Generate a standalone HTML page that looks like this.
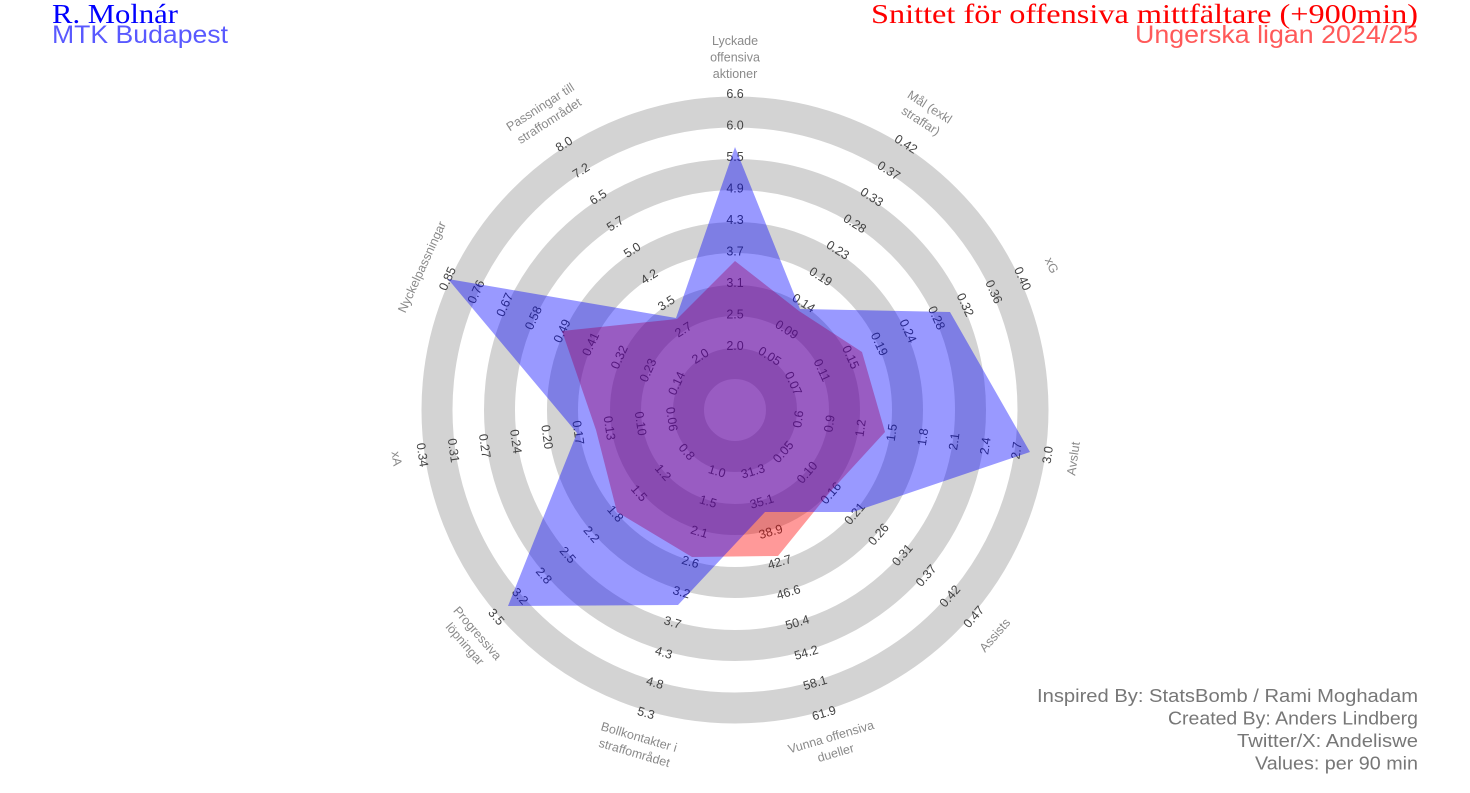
<!DOCTYPE html>
<html><head><meta charset="utf-8"><style>
html,body{margin:0;padding:0;background:#fff;width:1470px;height:793px;overflow:hidden}
svg{display:block}
.t{font-family:"Liberation Sans",sans-serif;font-size:12.5px;fill:#444;text-anchor:middle;dominant-baseline:central}
.p{font-family:"Liberation Sans",sans-serif;font-size:12.5px;fill:#8a8a8a;text-anchor:middle}
</style></head><body>
<svg width="1470" height="793" viewBox="0 0 1470 793" xmlns="http://www.w3.org/2000/svg">
<g fill="none" stroke="#d3d3d3" stroke-width="31">
<circle cx="735" cy="410" r="46.5"/><circle cx="735" cy="410" r="109.5"/><circle cx="735" cy="410" r="172.5"/><circle cx="735" cy="410" r="235.5"/><circle cx="735" cy="410" r="298"/>
</g>

<g transform="translate(735,410)">
<g transform="rotate(0)">
<text class="t" x="0" y="-64">2.0</text><text class="t" x="0" y="-95.5">2.5</text><text class="t" x="0" y="-127">3.1</text><text class="t" x="0" y="-158.5">3.7</text><text class="t" x="0" y="-190">4.3</text><text class="t" x="0" y="-221.5">4.9</text><text class="t" x="0" y="-253">5.5</text><text class="t" x="0" y="-284.5">6.0</text><text class="t" x="0" y="-316">6.6</text>
<text class="p" y="-365"><tspan x="0" dy="0">Lyckade</tspan><tspan x="0" dy="16.5">offensiva</tspan><tspan x="0" dy="16.5">aktioner</tspan></text>
</g>
<g transform="rotate(32.73)">
<text class="t" x="0" y="-64">0.05</text><text class="t" x="0" y="-95.5">0.09</text><text class="t" x="0" y="-127">0.14</text><text class="t" x="0" y="-158.5">0.19</text><text class="t" x="0" y="-190">0.23</text><text class="t" x="0" y="-221.5">0.28</text><text class="t" x="0" y="-253">0.33</text><text class="t" x="0" y="-284.5">0.37</text><text class="t" x="0" y="-316">0.42</text>
<text class="p" y="-356"><tspan x="0" dy="0">Mål (exkl</tspan><tspan x="0" dy="16.5">straffar)</tspan></text>
</g>
<g transform="rotate(65.45)">
<text class="t" x="0" y="-64">0.07</text><text class="t" x="0" y="-95.5">0.11</text><text class="t" x="0" y="-127">0.15</text><text class="t" x="0" y="-158.5">0.19</text><text class="t" x="0" y="-190">0.24</text><text class="t" x="0" y="-221.5">0.28</text><text class="t" x="0" y="-253">0.32</text><text class="t" x="0" y="-284.5">0.36</text><text class="t" x="0" y="-316">0.40</text>
<text class="p" y="-344"><tspan x="0" dy="0">xG</tspan></text>
</g>
<g transform="rotate(98.18)">
<text class="t" transform="translate(0,-64) rotate(180)">0.6</text><text class="t" transform="translate(0,-95.5) rotate(180)">0.9</text><text class="t" transform="translate(0,-127) rotate(180)">1.2</text><text class="t" transform="translate(0,-158.5) rotate(180)">1.5</text><text class="t" transform="translate(0,-190) rotate(180)">1.8</text><text class="t" transform="translate(0,-221.5) rotate(180)">2.1</text><text class="t" transform="translate(0,-253) rotate(180)">2.4</text><text class="t" transform="translate(0,-284.5) rotate(180)">2.7</text><text class="t" transform="translate(0,-316) rotate(180)">3.0</text>
<text class="p" transform="translate(0,-342) rotate(180)" dominant-baseline="central">Avslut</text>
</g>
<g transform="rotate(130.91)">
<text class="t" transform="translate(0,-64) rotate(180)">0.05</text><text class="t" transform="translate(0,-95.5) rotate(180)">0.10</text><text class="t" transform="translate(0,-127) rotate(180)">0.16</text><text class="t" transform="translate(0,-158.5) rotate(180)">0.21</text><text class="t" transform="translate(0,-190) rotate(180)">0.26</text><text class="t" transform="translate(0,-221.5) rotate(180)">0.31</text><text class="t" transform="translate(0,-253) rotate(180)">0.37</text><text class="t" transform="translate(0,-284.5) rotate(180)">0.42</text><text class="t" transform="translate(0,-316) rotate(180)">0.47</text>
<text class="p" transform="translate(0,-344) rotate(180)" dominant-baseline="central">Assists</text>
</g>
<g transform="rotate(163.64)">
<text class="t" transform="translate(0,-64) rotate(180)">31.3</text><text class="t" transform="translate(0,-95.5) rotate(180)">35.1</text><text class="t" transform="translate(0,-127) rotate(180)">38.9</text><text class="t" transform="translate(0,-158.5) rotate(180)">42.7</text><text class="t" transform="translate(0,-190) rotate(180)">46.6</text><text class="t" transform="translate(0,-221.5) rotate(180)">50.4</text><text class="t" transform="translate(0,-253) rotate(180)">54.2</text><text class="t" transform="translate(0,-284.5) rotate(180)">58.1</text><text class="t" transform="translate(0,-316) rotate(180)">61.9</text>
<g transform="translate(0,-348) rotate(180)"><text class="p" y="-3"><tspan x="0" dy="0">Vunna offensiva</tspan><tspan x="0" dy="16.5">dueller</tspan></text></g>
</g>
<g transform="rotate(196.36)">
<text class="t" transform="translate(0,-64) rotate(180)">1.0</text><text class="t" transform="translate(0,-95.5) rotate(180)">1.5</text><text class="t" transform="translate(0,-127) rotate(180)">2.1</text><text class="t" transform="translate(0,-158.5) rotate(180)">2.6</text><text class="t" transform="translate(0,-190) rotate(180)">3.2</text><text class="t" transform="translate(0,-221.5) rotate(180)">3.7</text><text class="t" transform="translate(0,-253) rotate(180)">4.3</text><text class="t" transform="translate(0,-284.5) rotate(180)">4.8</text><text class="t" transform="translate(0,-316) rotate(180)">5.3</text>
<g transform="translate(0,-348) rotate(180)"><text class="p" y="-3"><tspan x="0" dy="0">Bollkontakter i</tspan><tspan x="0" dy="16.5">straffområdet</tspan></text></g>
</g>
<g transform="rotate(229.09)">
<text class="t" transform="translate(0,-64) rotate(180)">0.8</text><text class="t" transform="translate(0,-95.5) rotate(180)">1.2</text><text class="t" transform="translate(0,-127) rotate(180)">1.5</text><text class="t" transform="translate(0,-158.5) rotate(180)">1.8</text><text class="t" transform="translate(0,-190) rotate(180)">2.2</text><text class="t" transform="translate(0,-221.5) rotate(180)">2.5</text><text class="t" transform="translate(0,-253) rotate(180)">2.8</text><text class="t" transform="translate(0,-284.5) rotate(180)">3.2</text><text class="t" transform="translate(0,-316) rotate(180)">3.5</text>
<g transform="translate(0,-348) rotate(180)"><text class="p" y="-3"><tspan x="0" dy="0">Progressiva</tspan><tspan x="0" dy="16.5">löpningar</tspan></text></g>
</g>
<g transform="rotate(261.82)">
<text class="t" transform="translate(0,-64) rotate(180)">0.06</text><text class="t" transform="translate(0,-95.5) rotate(180)">0.10</text><text class="t" transform="translate(0,-127) rotate(180)">0.13</text><text class="t" transform="translate(0,-158.5) rotate(180)">0.17</text><text class="t" transform="translate(0,-190) rotate(180)">0.20</text><text class="t" transform="translate(0,-221.5) rotate(180)">0.24</text><text class="t" transform="translate(0,-253) rotate(180)">0.27</text><text class="t" transform="translate(0,-284.5) rotate(180)">0.31</text><text class="t" transform="translate(0,-316) rotate(180)">0.34</text>
<text class="p" transform="translate(0,-342) rotate(180)" dominant-baseline="central">xA</text>
</g>
<g transform="rotate(294.55)">
<text class="t" x="0" y="-64">0.14</text><text class="t" x="0" y="-95.5">0.23</text><text class="t" x="0" y="-127">0.32</text><text class="t" x="0" y="-158.5">0.41</text><text class="t" x="0" y="-190">0.49</text><text class="t" x="0" y="-221.5">0.58</text><text class="t" x="0" y="-253">0.67</text><text class="t" x="0" y="-284.5">0.76</text><text class="t" x="0" y="-316">0.85</text>
<text class="p" x="0" y="-344" dominant-baseline="central">Nyckelpassningar</text>
</g>
<g transform="rotate(327.27)">
<text class="t" x="0" y="-64">2.0</text><text class="t" x="0" y="-95.5">2.7</text><text class="t" x="0" y="-127">3.5</text><text class="t" x="0" y="-158.5">4.2</text><text class="t" x="0" y="-190">5.0</text><text class="t" x="0" y="-221.5">5.7</text><text class="t" x="0" y="-253">6.5</text><text class="t" x="0" y="-284.5">7.2</text><text class="t" x="0" y="-316">8.0</text>
<text class="p" y="-356"><tspan x="0" dy="0">Passningar till</tspan><tspan x="0" dy="16.5">straffområdet</tspan></text>
</g>
</g>

<polygon fill="#ff0000" fill-opacity="0.4" points="735,261 799,311 862,352 885,432 830,492 778,556 692,557 617,512 596,430 562,331 677,319"/>
<polygon fill="#0000ff" fill-opacity="0.4" points="735,147 800,309 950,312 1030,452 853,512 765,512 678,605 508,606 577,433 448,279 676,318"/>

<text x="52" y="23" font-family="Liberation Serif, serif" font-size="27" fill="#0000ff" textLength="126" lengthAdjust="spacingAndGlyphs">R. Molnár</text>
<text x="52" y="43" font-family="Liberation Sans, sans-serif" font-size="25" fill="#0000ff" fill-opacity="0.65" textLength="176" lengthAdjust="spacingAndGlyphs">MTK Budapest</text>
<text x="1418" y="23" text-anchor="end" font-family="Liberation Serif, serif" font-size="27" fill="#ff0000" textLength="547" lengthAdjust="spacingAndGlyphs">Snittet för offensiva mittfältare (+900min)</text>
<text x="1418" y="43" text-anchor="end" font-family="Liberation Sans, sans-serif" font-size="25" fill="#ff0000" fill-opacity="0.65" textLength="283" lengthAdjust="spacingAndGlyphs">Ungerska ligan 2024/25</text>

<g font-family="Liberation Sans, sans-serif" font-size="18" fill="#777" text-anchor="end">
<text x="1418" y="702" textLength="381" lengthAdjust="spacingAndGlyphs">Inspired By: StatsBomb / Rami Moghadam</text>
<text x="1418" y="724.5" textLength="250" lengthAdjust="spacingAndGlyphs">Created By: Anders Lindberg</text>
<text x="1418" y="747" textLength="181" lengthAdjust="spacingAndGlyphs">Twitter/X: Andeliswe</text>
<text x="1418" y="769.5" textLength="163" lengthAdjust="spacingAndGlyphs">Values: per 90 min</text>
</g>
</svg>
</body></html>
